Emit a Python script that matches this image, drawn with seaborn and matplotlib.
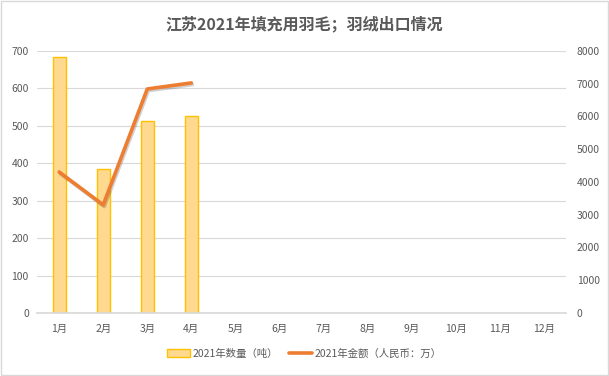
import numpy as np
import pandas as pd
import seaborn as sns
import matplotlib.pyplot as plt
import matplotlib.patheffects as pe
from matplotlib.patches import Patch
from matplotlib.lines import Line2D

# data
months = ['1月', '2月', '3月', '4月', '5月', '6月', '7月', '8月', '9月', '10月', '11月', '12月']
quantity = [684, 385, 513, 526]          # 2021年数量（吨）
amount = [4305, 3300, 6840, 7025]        # 2021年金额（人民币：万）

sns.set_theme(style='white')
plt.rcParams['font.family'] = ['Noto Sans CJK SC', 'DejaVu Sans']

TXT = '#595959'
GRID = '#d9d9d9'

df_q = pd.DataFrame({'month': months,
                     'qty': quantity + [np.nan] * (len(months) - len(quantity))})
df_a = pd.DataFrame({'pos': np.arange(len(amount)), 'amt': amount})

fig = plt.figure(figsize=(6.09, 3.76), dpi=100)
ax = fig.add_axes([0.061, 0.1676, 0.868, 0.6968])

sns.barplot(data=df_q, x='month', y='qty', order=months, color='#FFD98F',
            edgecolor='#FFC000', linewidth=1, width=0.3, saturation=1, ax=ax)

ax.set_ylim(0, 700)
ax.set_yticks(np.arange(0, 701, 100))
ax.set_xlim(-0.5, len(months) - 0.5)
ax.yaxis.grid(True, color=GRID, linewidth=0.8)
ax.set_axisbelow(True)
ax.set_xlabel('')
ax.set_ylabel('')
for s in ['top', 'left', 'right']:
    ax.spines[s].set_visible(False)
ax.spines['bottom'].set_color(GRID)
ax.tick_params(axis='both', length=0, labelsize=7.5, labelcolor=TXT, pad=6)
ax.tick_params(axis='x', pad=8)

ax2 = ax.twinx()
sns.lineplot(data=df_a, x='pos', y='amt', color='#ED7D31', linewidth=2.6, ax=ax2,
             path_effects=[pe.SimpleLineShadow(offset=(0.8, -1.2), alpha=0.2), pe.Normal()])
ax2.set_ylim(0, 8000)
ax2.set_yticks(np.arange(0, 8001, 1000))
ax2.set_xlim(-0.5, len(months) - 0.5)
ax2.set_xlabel('')
ax2.set_ylabel('')
for s in ['top', 'left', 'right', 'bottom']:
    ax2.spines[s].set_visible(False)
ax2.tick_params(axis='y', length=0, labelsize=7.5, labelcolor=TXT, pad=8)

fig.text(0.5, 0.935, '江苏2021年填充用羽毛；羽绒出口情况', ha='center', va='center',
         fontsize=11.5, fontweight='bold', color=TXT)

handles = [Patch(facecolor='#FFD98F', edgecolor='#FFC000', linewidth=1),
           Line2D([0], [0], color='#ED7D31', linewidth=2.6)]
fig.legend(handles, ['2021年数量（吨）', '2021年金额（人民币：万）'], loc='center',
           bbox_to_anchor=(0.5, 0.06), ncol=2, frameon=False, fontsize=7.5,
           labelcolor=TXT, handlelength=2.2, columnspacing=1.0, handletextpad=0.3)

fig.patches.append(plt.Rectangle((0.002, 0.002), 0.996, 0.996, transform=fig.transFigure,
                                 fill=False, edgecolor='#d9d9d9', linewidth=1))

fig.savefig('out.png', dpi=100)
